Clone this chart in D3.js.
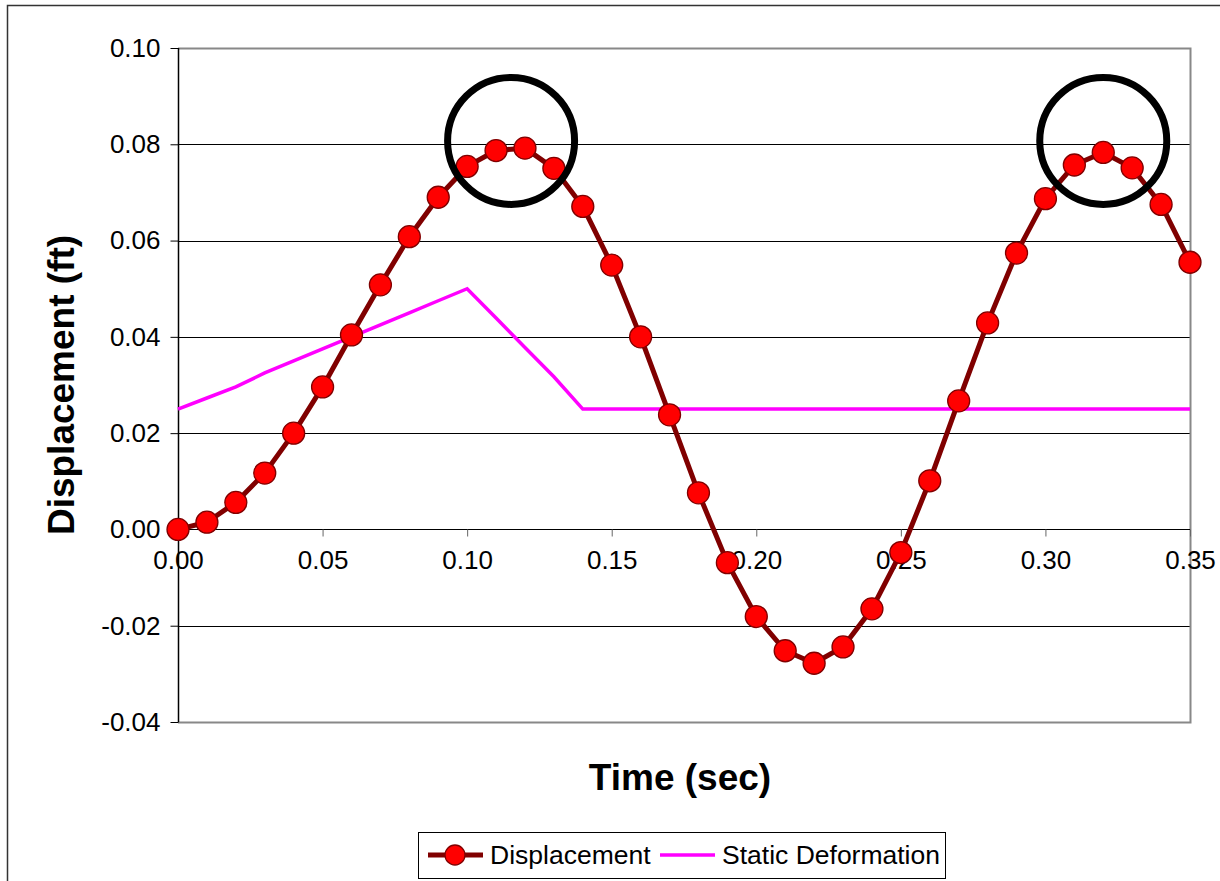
<!DOCTYPE html>
<html>
<head>
<meta charset="utf-8">
<script src="https://cdn.jsdelivr.net/npm/d3@7"></script>
<style>
  body { margin: 0; background: #fff; }
  svg { display: block; font-family: "Liberation Sans", Arial, sans-serif; }
</style>
</head>
<body>
<svg></svg>
<script>
const width = 1220;
const height = 881;
const plot = { left: 178, right: 1190, top: 48, bottom: 722 };

// time (sec)
const time = [0.00, 0.01, 0.02, 0.03, 0.04, 0.05, 0.06, 0.07, 0.08, 0.09,
              0.10, 0.11, 0.12, 0.13, 0.14, 0.15, 0.16, 0.17, 0.18, 0.19,
              0.20, 0.21, 0.22, 0.23, 0.24, 0.25, 0.26, 0.27, 0.28, 0.29,
              0.30, 0.31, 0.32, 0.33, 0.34, 0.35];

// displacement (ft)
const displacement = [0.0000, 0.0015, 0.0056, 0.0117, 0.0200, 0.0296, 0.0404, 0.0508, 0.0608, 0.0690,
                      0.0754, 0.0787, 0.0792, 0.0750, 0.0671, 0.0549, 0.0400, 0.0238, 0.0076, -0.0069,
                      -0.0181, -0.0252, -0.0278, -0.0244, -0.0165, -0.0048, 0.0101, 0.0267, 0.0429, 0.0574,
                      0.0687, 0.0757, 0.0783, 0.0751, 0.0675, 0.0555];

// static deformation (ft)
const staticDeformation = [0.0250, 0.0273, 0.0296, 0.0325, 0.0350, 0.0375, 0.0400, 0.0425, 0.0450, 0.0475,
                           0.0500, 0.0439, 0.0378, 0.0317, 0.0250, 0.0250, 0.0250, 0.0250, 0.0250, 0.0250,
                           0.0250, 0.0250, 0.0250, 0.0250, 0.0250, 0.0250, 0.0250, 0.0250, 0.0250, 0.0250,
                           0.0250, 0.0250, 0.0250, 0.0250, 0.0250, 0.0250];

const xTicks = [0.00, 0.05, 0.10, 0.15, 0.20, 0.25, 0.30, 0.35];
const yTicks = [-0.04, -0.02, 0.00, 0.02, 0.04, 0.06, 0.08, 0.10];

// highlighted peaks: [time, displacement]
const peaks = [[0.1152, 0.0807], [0.3200, 0.0807]];

// plain hyphen for negatives, like the original
const fmt = d => d3.format(".2f")(d).replace("\u2212", "-");

const svg = d3.select("svg")
    .attr("width", width)
    .attr("height", height);

const xScale = d3.scaleLinear()
    .domain([0, 0.35])
    .range([plot.left, plot.right]);

const yScale = d3.scaleLinear()
    .domain([-0.04, 0.10])
    .range([plot.bottom, plot.top]);

// chart frame (runs off the right and bottom of the picture)
svg.append("rect")
    .attr("x", 7.5).attr("y", 5.5)
    .attr("width", 1400).attr("height", 1000)
    .attr("fill", "none")
    .attr("stroke", "#333")
    .attr("stroke-width", 1.5);

// gridlines
svg.append("g")
  .selectAll("line")
    .data(yTicks.filter(d => d !== 0 && d !== 0.10 && d !== -0.04))
    .enter()
    .append("line")
    .attr("x1", plot.left).attr("x2", plot.right)
    .attr("y1", d => Math.round(yScale(d)) + 0.5)
    .attr("y2", d => Math.round(yScale(d)) + 0.5)
    .attr("stroke", "#000");

// plot border: top, right, bottom grey
svg.append("path")
    .attr("d", `M${plot.left},${plot.top + 0.5}H${plot.right + 0.5}V${plot.bottom + 0.5}H${plot.left}`)
    .attr("fill", "none")
    .attr("stroke", "#888")
    .attr("stroke-width", 2);

// y axis
const yAxis = d3.axisLeft(yScale)
    .tickValues(yTicks)
    .tickSize(8)
    .tickPadding(10)
    .tickFormat(fmt);

svg.append("g")
    .attr("transform", `translate(${plot.left + 0.5},0)`)
    .call(yAxis)
    .call(g => g.selectAll("text").style("font-size", "26px").attr("fill", "#000"))
    .call(g => g.selectAll("line").attr("stroke", "#000"))
    .call(g => g.select(".domain").attr("stroke", "#000").attr("stroke-width", 1.5).attr("d", `M0,${plot.top}V${plot.bottom}`));

// x axis at zero
const xAxis = d3.axisBottom(xScale)
    .tickValues(xTicks)
    .tickSize(7)
    .tickPadding(14)
    .tickFormat(fmt);

svg.append("g")
    .attr("transform", `translate(0,${Math.round(yScale(0)) + 0.5})`)
    .call(xAxis)
    .call(g => g.selectAll("text").style("font-size", "26px").attr("fill", "#000"))
    .call(g => g.selectAll("line").attr("stroke", "#666"))
    .call(g => g.select(".domain").attr("stroke", "#000").attr("d", `M${plot.left},0H${plot.right}`));

// axis titles
svg.append("text")
    .attr("transform", `translate(74,${(plot.top + plot.bottom) / 2}) rotate(-90)`)
    .style("text-anchor", "middle")
    .style("font-size", "37px")
    .style("font-weight", "bold")
    .text("Displacement (ft)");

svg.append("text")
    .attr("x", (plot.left + plot.right) / 2 - 4)
    .attr("y", 790)
    .style("text-anchor", "middle")
    .style("font-size", "37px")
    .style("font-weight", "bold")
    .text("Time (sec)");

// static deformation line
const staticLine = d3.line()
    .x((d, i) => xScale(time[i]))
    .y(d => yScale(d));

svg.append("path")
    .datum(staticDeformation)
    .attr("d", staticLine)
    .attr("fill", "none")
    .attr("stroke", "#FF00FF")
    .attr("stroke-width", 3.5);

// displacement line + markers
const dispLine = d3.line()
    .x((d, i) => xScale(time[i]))
    .y(d => yScale(d));

svg.append("path")
    .datum(displacement)
    .attr("d", dispLine)
    .attr("fill", "none")
    .attr("stroke", "#800000")
    .attr("stroke-width", 5)
    .attr("stroke-linejoin", "round");

svg.append("g")
  .selectAll("circle")
    .data(displacement)
    .enter()
    .append("circle")
    .attr("cx", (d, i) => xScale(time[i]))
    .attr("cy", d => yScale(d))
    .attr("r", 11)
    .attr("fill", "#FF0000")
    .attr("stroke", "#800000")
    .attr("stroke-width", 1.3);

// peak highlight circles
svg.append("g")
  .selectAll("circle")
    .data(peaks)
    .enter()
    .append("circle")
    .attr("cx", d => xScale(d[0]))
    .attr("cy", d => yScale(d[1]))
    .attr("r", 63.5)
    .attr("fill", "none")
    .attr("stroke", "#000")
    .attr("stroke-width", 7);

// legend
const legend = svg.append("g");

legend.append("rect")
    .attr("x", 418.5).attr("y", 832.5)
    .attr("width", 527).attr("height", 46)
    .attr("fill", "#fff")
    .attr("stroke", "#000");

legend.append("line")
    .attr("x1", 428).attr("x2", 483)
    .attr("y1", 855).attr("y2", 855)
    .attr("stroke", "#800000").attr("stroke-width", 5);

legend.append("circle")
    .attr("cx", 455).attr("cy", 855).attr("r", 10)
    .attr("fill", "#FF0000").attr("stroke", "#800000").attr("stroke-width", 1.3);

legend.append("text")
    .attr("x", 490).attr("y", 864)
    .style("font-size", "26.5px")
    .text("Displacement");

legend.append("line")
    .attr("x1", 660).attr("x2", 715)
    .attr("y1", 855).attr("y2", 855)
    .attr("stroke", "#FF00FF").attr("stroke-width", 3.5);

legend.append("text")
    .attr("x", 722).attr("y", 864)
    .style("font-size", "26.5px")
    .text("Static Deformation");
</script>
</body>
</html>
